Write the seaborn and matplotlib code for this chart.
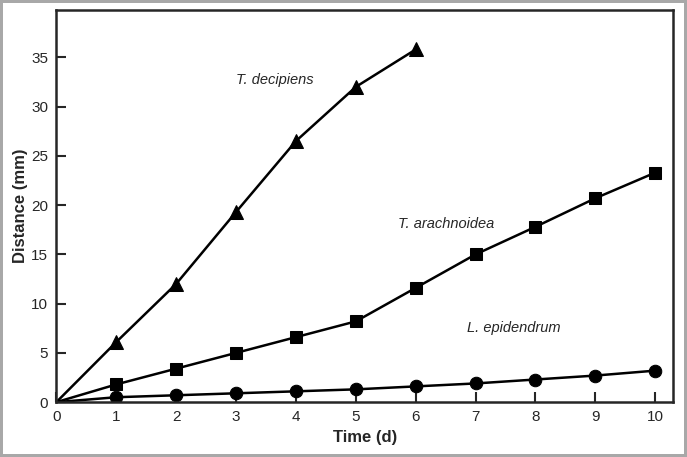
import pandas as pd
import seaborn as sns
import matplotlib.pyplot as plt

# data
days = [0, 1, 2, 3, 4, 5, 6, 7, 8, 9, 10]
decipiens_days = [0, 1, 2, 3, 4, 5, 6]
decipiens = [0, 6.1, 12.0, 19.3, 26.5, 32.0, 35.8]
arachnoidea = [0, 1.8, 3.4, 5.0, 6.6, 8.2, 11.6, 15.0, 17.8, 20.7, 23.3]
epidendrum = [0, 0.5, 0.7, 0.9, 1.1, 1.3, 1.6, 1.9, 2.3, 2.7, 3.2]

sns.set_style("ticks")
plt.rcParams["font.family"] = ["Liberation Sans", "DejaVu Sans"]

fig = plt.figure(figsize=(6.87, 4.57), dpi=100, edgecolor="#a8a8a8", linewidth=4)
ax = fig.add_axes([0.082, 0.12, 0.898, 0.858])

series = [
    (decipiens_days, decipiens, "^", 10),
    (days, arachnoidea, "s", 9),
    (days, epidendrum, "o", 9),
]
for x, y, m, ms in series:
    df = pd.DataFrame({"Time": x, "Distance": y})
    sns.lineplot(data=df, x="Time", y="Distance", ax=ax, color="black",
                 linewidth=1.8, marker=m, markersize=ms,
                 markevery=list(range(1, len(x))), markeredgecolor="black")

ax.text(3.0, 32.3, "T. decipiens", style="italic", fontsize=10.5)
ax.text(5.7, 17.7, "T. arachnoidea", style="italic", fontsize=10.5)
ax.text(6.85, 7.1, "L. epidendrum", style="italic", fontsize=10.5)

ax.set_xlim(0, 10.3)
ax.set_ylim(0, 39.8)
ax.set_xticks(range(0, 11))
ax.set_yticks(range(0, 36, 5))
ax.tick_params(direction="in", length=7, width=1.5, labelsize=11, pad=6)
ax.set_xlabel("Time (d)", fontsize=12, fontweight="bold", labelpad=4)
ax.set_ylabel("Distance (mm)", fontsize=12, fontweight="bold", labelpad=2)
for s in ax.spines.values():
    s.set_linewidth(1.8)
    s.set_visible(True)

fig.savefig("out.png", dpi=100, edgecolor=fig.get_edgecolor())
